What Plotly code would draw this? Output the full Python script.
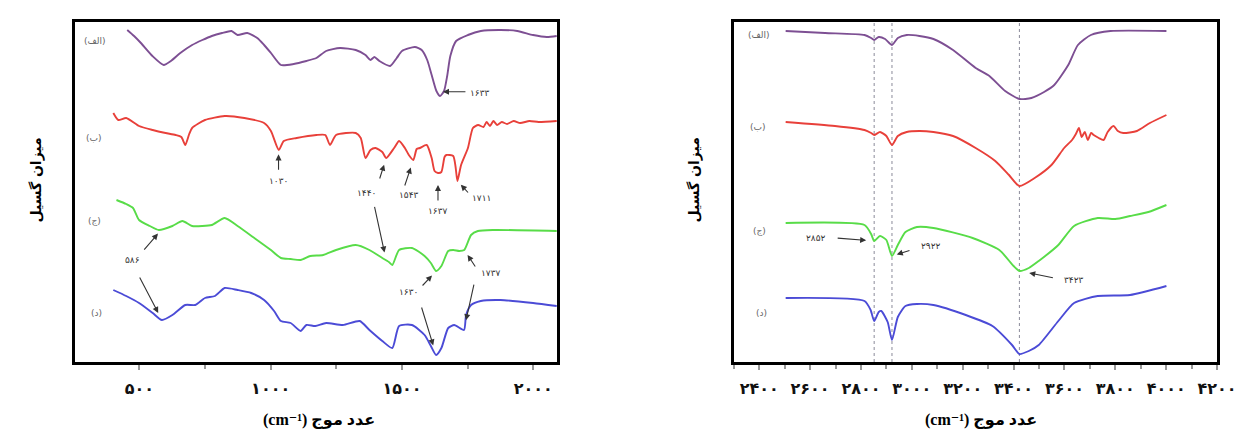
import numpy as np
import plotly.graph_objects as go

# ---------------- DATA ----------------
# Left panel (400-2100 cm-1); y = relative emission (stacked, arbitrary units)
L_a_x = [454, 480, 506, 550, 593, 620, 656, 701, 740, 776, 815, 851, 874, 911, 949, 975, 1001, 1039, 1088, 1136,
         1174, 1211, 1264, 1324, 1361, 1380, 1395, 1414, 1455, 1480, 1500, 1549, 1575, 1596, 1613, 1631, 1645,
         1660, 1672, 1684, 1706, 1751, 1800, 1875, 1939, 1999, 2051, 2089]
L_a_y = [332, 326, 319, 306, 297, 301, 309, 317, 322, 326, 329, 331, 327, 329, 324, 317, 309, 297, 298, 301,
         304, 311, 314, 312, 307, 302, 305, 301, 296, 304, 311, 315, 312, 302, 287, 271, 266,
         271, 286, 306, 321, 327, 331, 332, 331, 327, 325, 326]

L_b_x = [401, 420, 450, 499, 551, 600, 638, 660, 675, 690, 701, 750, 825, 900, 975, 1001, 1031, 1050, 1099, 1174,
         1208, 1226, 1249, 1324, 1343, 1361, 1380, 1399, 1425, 1440, 1470, 1489, 1511, 1526, 1543, 1556,
         1568, 1594, 1613, 1624, 1637, 1650, 1662, 1669, 1695, 1704, 1711, 1725, 1751, 1770, 1790, 1810, 1822, 1835,
         1848, 1862, 1880, 1900, 1925, 1950, 1985, 2020, 2089]
L_b_y = [249, 242, 244, 236, 232, 229, 227, 225, 217, 228, 234, 242, 246, 244, 239, 231, 212, 221, 224, 227,
         227, 217, 227, 229, 224, 204, 212, 214, 210, 204, 214, 221, 214, 207, 202, 213,
         214, 217, 204, 191, 189, 190, 205, 207, 206, 195, 181, 197, 214, 234, 237, 235, 240, 236,
         241, 237, 240, 238, 241, 239, 241, 240, 241]

L_c_x = [413, 450, 476, 499, 540, 574, 626, 664, 701, 740, 776, 825, 874, 938, 1001, 1039, 1076, 1114, 1151, 1200, 1249,
         1324, 1376, 1425, 1450, 1463, 1489, 1538, 1586, 1610, 1630, 1650, 1676, 1695, 1718, 1737, 1763, 1789, 1849, 2089]
L_c_y = [162, 158, 154, 142, 136, 132, 136, 141, 136, 136, 137, 144, 136, 124, 112, 104, 103, 102, 106, 107, 112,
         117, 112, 104, 100, 97, 112, 114, 106, 99, 91, 96, 111, 112, 111, 112, 127, 131, 132, 131]

L_d_x = [401, 450, 499, 551, 586, 626, 675, 713, 750, 788, 825, 874, 926, 975, 1013, 1039, 1076, 1114,
         1136, 1170, 1211, 1275, 1339, 1376, 1425, 1463, 1489, 1538, 1586, 1610, 1630, 1650, 1676, 1699, 1736,
         1744, 1763, 1800, 1875, 1999, 2089]
L_d_y = [72, 66, 59, 49, 42, 47, 57, 57, 64, 66, 74, 72, 69, 62, 51, 41, 39, 31,
         37, 36, 39, 37, 41, 32, 21, 14, 36, 37, 27, 16, 7, 14, 34, 37, 32,
         47, 57, 61, 62, 59, 56]

# Right panel (2500-4000 cm-1)
R_a_x = [2504, 2659, 2814, 2840, 2852, 2870, 2895, 2922, 2945, 2980, 3030, 3085, 3162, 3251, 3305, 3367, 3423,
         3470, 3520, 3560, 3615, 3653, 3704, 3781, 4001]
R_a_y = [331, 329, 327, 324, 322, 325, 323, 317, 324, 327, 326, 323, 312, 294, 286, 271, 263,
         264, 270, 277, 297, 317, 327, 331, 331]

R_b_x = [2504, 2698, 2814, 2840, 2852, 2875, 2900, 2922, 2945, 2980, 3030, 3085, 3162, 3251, 3328, 3382, 3423,
         3483, 3549, 3599, 3630, 3645, 3657, 3668, 3680, 3692, 3705, 3715, 3735, 3754, 3770, 3793, 3810, 3831,
         3885, 3936, 4001]
R_b_y = [240, 236, 232, 229, 227, 230, 226, 217, 226, 230, 231, 230, 226, 214, 201, 187, 176,
         184, 197, 214, 222, 228, 234, 225, 230, 222, 229, 227, 224, 222, 230, 236, 231, 229,
         231, 239, 247]

R_c_x = [2504, 2814, 2840, 2852, 2875, 2900, 2922, 2945, 2975, 3020, 3085, 3239, 3344, 3400, 3423, 3460, 3499,
         3576, 3638, 3731, 3800, 3858, 3930, 4001]
R_c_y = [139, 137, 128, 121, 126, 122, 106, 117, 130, 135, 134, 124, 112, 96, 91, 94, 101,
         117, 136, 144, 143, 146, 150, 157]

R_d_x = [2504, 2814, 2838, 2852, 2870, 2880, 2905, 2922, 2945, 2975, 3020, 3085, 3212, 3317, 3394, 3423, 3460,
         3499, 3576, 3638, 3731, 3858, 4001]
R_d_y = [64, 61, 52, 41, 50, 51, 40, 22, 45, 56, 58, 57, 47, 36, 17, 8, 11,
         17, 41, 59, 66, 67, 76]

series_names = ["(الف)", "(ب)", "(ج)", "(د)"]
left_ticks = [500, 1000, 1500, 2000]
right_ticks = [2400, 2600, 2800, 3000, 3200, 3400, 3600, 3800, 4000, 4200]
right_guides = [2852, 2922, 3423]
x_title = "(cm⁻¹) عدد موج"
y_title = "میزان گسیل"

# ---------------- FIGURE ----------------
W, H = 1247, 430
COLORS = ["#7d4f93", "#e8403a", "#58dc48", "#4b4bd6"]

def fa(n):
    return str(n).translate(str.maketrans("0123456789", "۰۱۲۳۴۵۶۷۸۹"))

left = [(L_a_x, L_a_y), (L_b_x, L_b_y), (L_c_x, L_c_y), (L_d_x, L_d_y)]
right = [(R_a_x, R_a_y), (R_b_x, R_b_y), (R_c_x, R_c_y), (R_d_x, R_d_y)]

fig = go.Figure()
for i, (x, y) in enumerate(left):
    fig.add_trace(go.Scatter(x=x, y=y, mode="lines",
                             line=dict(color=COLORS[i], width=1.9, shape="spline", smoothing=0.6),
                             xaxis="x", yaxis="y", showlegend=False, hoverinfo="skip"))
for i, (x, y) in enumerate(right):
    fig.add_trace(go.Scatter(x=x, y=y, mode="lines",
                             line=dict(color=COLORS[i], width=1.9, shape="spline", smoothing=0.6),
                             xaxis="x2", yaxis="y2", showlegend=False, hoverinfo="skip"))

ydom = [76 / H, 416 / H]
axis_common = dict(showline=True, mirror=True, linecolor="black", linewidth=2.5,
                   showgrid=False, zeroline=False)
tickfont = dict(family="DejaVu Sans", size=16, color="#111", weight="bold")

fig.update_layout(
    width=W, height=H, autosize=False,
    margin=dict(l=0, r=0, t=0, b=0),
    paper_bgcolor="white", plot_bgcolor="white",
    xaxis=dict(domain=[68 / W, 558 / W], range=[255, 2092], anchor="y",
               tickvals=left_ticks, ticktext=[fa(v) for v in left_ticks],
               ticks="outside", ticklen=5, tickwidth=1.5, tickcolor="#999",
               ticklabelstandoff=5, tickfont=tickfont, ticklabeloverflow="allow",
               minor=dict(dtick=250, ticks="outside", ticklen=4, tickcolor="#999"),
               **axis_common),
    yaxis=dict(domain=ydom, range=[0, 340], anchor="x", showticklabels=False, ticks="",
               **axis_common),
    xaxis2=dict(domain=[737 / W, 1228 / W], range=[2300, 4201], anchor="y2",
                tickvals=right_ticks, ticktext=[fa(v) for v in right_ticks],
                ticks="outside", ticklen=5, tickwidth=1.5, tickcolor="#999",
                ticklabelstandoff=5, tickfont=tickfont, ticklabeloverflow="allow",
                minor=dict(dtick=100, ticks="outside", ticklen=4, tickcolor="#999"),
                **axis_common),
    yaxis2=dict(domain=ydom, range=[0, 340], anchor="x2", showticklabels=False, ticks="",
                **axis_common),
)

for g in right_guides:
    fig.add_shape(type="line", xref="x2", yref="y2 domain", x0=g, x1=g, y0=0, y1=1,
                  line=dict(color="#8a8a9a", width=1, dash="dot"), layer="below")

ann = []
label_font = dict(family="DejaVu Sans", size=9, color="#666")
peak_font = dict(family="DejaVu Sans", size=9, color="#333")

# series labels
left_lbl = [(330, 321), (326, 224), (330, 141), (337, 49)]
right_lbl = [(2400, 327), (2396, 235), (2400, 131), (2408, 49)]
for i in range(4):
    ann.append(dict(x=left_lbl[i][0], y=left_lbl[i][1], xref="x", yref="y", text=series_names[i],
                    showarrow=False, font=label_font, xanchor="center", yanchor="middle"))
    ann.append(dict(x=right_lbl[i][0], y=right_lbl[i][1], xref="x2", yref="y2", text=series_names[i],
                    showarrow=False, font=label_font, xanchor="center", yanchor="middle"))

def cy(curve, xv):
    return float(np.interp(xv, curve[0], curve[1]))

def arrow(curve, peak, ax, ay, standoff, axes=("x", "y")):
    ann.append(dict(x=peak, y=cy(curve, peak), xref=axes[0], yref=axes[1], text="",
                    showarrow=True, ax=ax, ay=ay, axref="pixel", ayref="pixel",
                    arrowhead=2, arrowsize=1.1, arrowwidth=1.1, arrowcolor="#333",
                    standoff=standoff))

def label(curve, peak, dx, dy, axes=("x", "y")):
    ann.append(dict(x=peak, y=cy(curve, peak), xref=axes[0], yref=axes[1], text=fa(peak),
                    showarrow=False, xshift=dx, yshift=-dy, font=peak_font,
                    xanchor="center", yanchor="middle"))

A, B, C, D = left
# left panel peaks
label(A, 1633, 43, 1); arrow(A, 1633, 30, 0, 6)
label(B, 1030, 0, 32); arrow(B, 1030, 0, 22, 5)
label(B, 1440, -20, 35); arrow(B, 1440, -7, 22, 7)
arrow(C, 1440, -12, -55, 8)
label(B, 1543, -4, 35); arrow(B, 1543, -9, 27, 8)
label(B, 1637, 0, 38); arrow(B, 1637, 0, 29, 12)
label(B, 1711, 24, 17); arrow(B, 1711, 12, 13, 5)
label(C, 586, -29, 31); arrow(C, 586, -19, 22, 6); arrow(D, 586, -23, -44, 8)
label(C, 1630, -28, 21); arrow(C, 1630, -15, 16, 6); arrow(D, 1630, -15, -49, 10)
label(C, 1737, 27, 23); arrow(C, 1737, 12, 18, 6); arrow(D, 1737, 10, -45, 8)

RC = right[2]
label(RC, 2852, -58, -3, ("x2", "y2")); arrow(RC, 2852, -38, -3, 8, ("x2", "y2"))
label(RC, 2922, 39, -10, ("x2", "y2")); arrow(RC, 2922, 19, -6, 5, ("x2", "y2"))
label(RC, 3423, 55, 9, ("x2", "y2")); arrow(RC, 3423, 35, 7, 10, ("x2", "y2"))

title_font = dict(family="Liberation Serif, DejaVu Sans", size=16, color="black", weight="bold")
for xc in (316, 988):
    ann.append(dict(x=xc / W, y=1 - 412 / H, xref="paper", yref="paper", text=x_title,
                    showarrow=False, font=title_font, xanchor="center", yanchor="middle"))
for xc in (28, 697):
    ann.append(dict(x=xc / W, y=1 - 172 / H, xref="paper", yref="paper", text=y_title,
                    showarrow=False, textangle=-90, xanchor="center", yanchor="middle",
                    font=dict(family="DejaVu Sans", size=14, color="black", weight="bold")))

fig.update_layout(annotations=ann)
fig.write_html("out.html")
